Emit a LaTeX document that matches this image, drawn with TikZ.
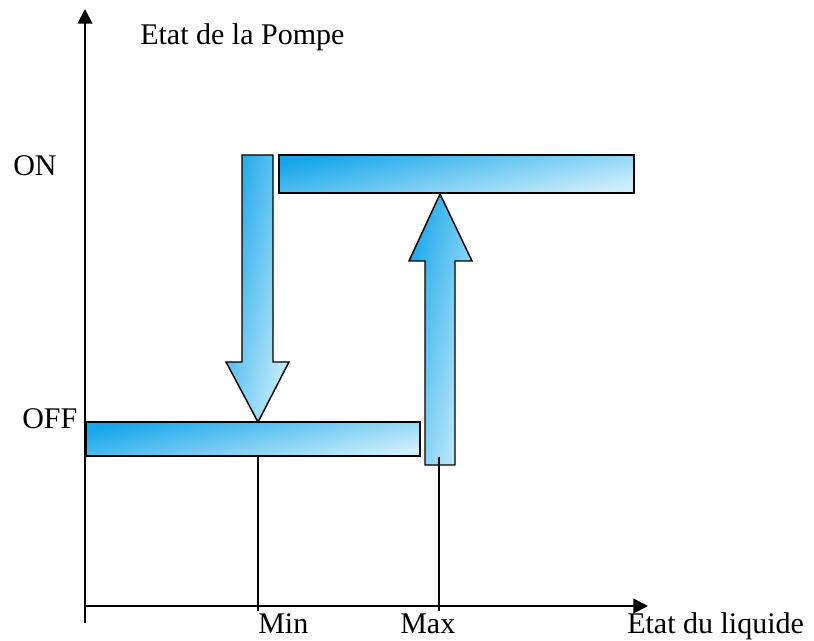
\documentclass[tikz,border=0pt]{standalone}
\usepackage{fontspec}
\setmainfont{Liberation Serif}
\usetikzlibrary{arrows.meta}
\definecolor{bluedark}{RGB}{22,166,234}
\definecolor{bluelight}{RGB}{205,238,251}
\begin{document}
\begin{tikzpicture}[x=0.75pt,y=-0.75pt,
  bluefill/.style={draw=black,line width=1.1pt,line join=miter,
    top color=bluedark,bottom color=bluelight,shading angle=#1},
  bluefill/.default=45,
  axisline/.style={line width=1.5pt,-{Triangle[length=11pt,width=11pt]}},
  guide/.style={line width=0.9pt},
  lbl/.style={inner sep=0pt,anchor=base west,font=\fontsize{22.5}{26}\selectfont}]
\useasboundingbox (0,0) rectangle (814,641);
% axes
\coordinate (yb) at (85,623);
\coordinate (yt) at (85,9);
\coordinate (xl) at (85,606);
\coordinate (xr) at (648,606);
\draw[axisline] (yb) -- (yt);
\draw[axisline] (xl) -- (xr);
% bars
\path[bluefill=12] (86,422) rectangle (420,456);
\path[bluefill=12] (279,155) rectangle (634,193);
% down arrow
\path[bluefill=78] (242,155) -- (273,155) -- (273,362) -- (289,362) -- (258,422)
  -- (226,362) -- (242,362) -- cycle;
% up arrow
\path[bluefill=78] (425,465) -- (455,465) -- (455,261) -- (472,261) -- (440,194)
  -- (409,261) -- (425,261) -- cycle;
% guide lines
\coordinate (mint) at (258,456);
\coordinate (minb) at (258,611);
\coordinate (maxt) at (439,457);
\coordinate (maxb) at (439,611);
\draw[guide] (mint) -- (minb);
\draw[guide] (maxt) -- (maxb);
% labels
\node[lbl] (ylab) at (140,45) {Etat de la Pompe};
\node[lbl] (on) at (13,176) {ON};
\node[lbl] (off) at (22,429) {OFF};
\node[lbl] (min) at (258,633) {Min};
\node[lbl] (max) at (400,633) {Max};
\node[lbl] (xlab) at (627,633) {État du liquide};
\end{tikzpicture}
\end{document}
